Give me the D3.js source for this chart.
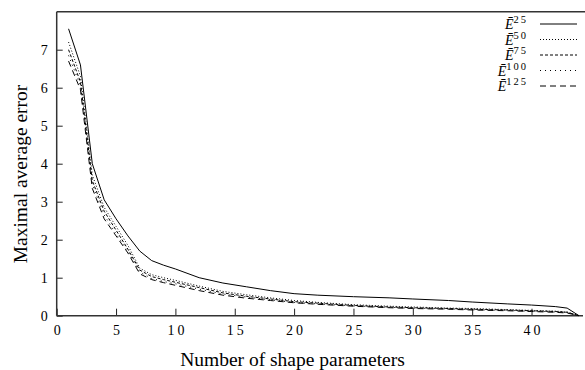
<!DOCTYPE html>
<html>
<head>
<meta charset="utf-8">
<script src="https://cdn.jsdelivr.net/npm/d3@7"></script>
<style>
  body { margin: 0; background: #fff; }
</style>
</head>
<body>
<div id="chart"></div>
<script>
// shape parameter counts (x)
const nParams = [1, 2, 3, 4, 5, 6, 7, 8, 9, 10, 12, 14, 16, 18, 20, 22, 25, 28, 30, 33, 35, 38, 40, 42, 43, 44];

// maximal average error per series
const e25  = [7.55, 6.6, 4.0, 3.05, 2.55, 2.1, 1.7, 1.45, 1.33, 1.23, 1.0, 0.86, 0.76, 0.66, 0.58, 0.54, 0.5, 0.47, 0.44, 0.4, 0.36, 0.31, 0.28, 0.24, 0.2, 0];
const e50  = [7.2, 6.3, 3.7, 2.85, 2.35, 1.85, 1.25, 1.08, 1.0, 0.93, 0.78, 0.64, 0.55, 0.47, 0.4, 0.35, 0.29, 0.25, 0.23, 0.2, 0.19, 0.16, 0.14, 0.12, 0.1, 0];
const e75  = [7.0, 6.15, 3.55, 2.75, 2.25, 1.75, 1.2, 1.03, 0.95, 0.88, 0.74, 0.6, 0.51, 0.44, 0.37, 0.33, 0.27, 0.23, 0.21, 0.19, 0.17, 0.15, 0.13, 0.11, 0.09, 0];
const e100 = [6.85, 6.05, 3.45, 2.65, 2.15, 1.7, 1.15, 0.98, 0.9, 0.84, 0.7, 0.57, 0.49, 0.42, 0.35, 0.31, 0.26, 0.22, 0.2, 0.18, 0.16, 0.14, 0.12, 0.1, 0.08, 0];
const e125 = [6.7, 5.95, 3.35, 2.55, 2.1, 1.65, 1.1, 0.95, 0.87, 0.8, 0.66, 0.54, 0.46, 0.4, 0.34, 0.3, 0.25, 0.21, 0.19, 0.17, 0.15, 0.13, 0.11, 0.09, 0.07, 0];

const seriesNames = ["25", "50", "75", "100", "125"];
const seriesValues = [e25, e50, e75, e100, e125];
const dashes = [null, "1,2", "3,2", "1,4", "6,4"];

const xTicks = [0, 5, 10, 15, 20, 25, 30, 35, 40];
const yTicks = [0, 1, 2, 3, 4, 5, 6, 7];

const width = 585, height = 370;
const serif = "'Liberation Serif', 'Times New Roman', 'DejaVu Serif', serif";

const svg = d3.select("#chart").append("svg")
  .attr("width", width)
  .attr("height", height);

const x = d3.scaleLinear().domain([0, 44]).range([56.7, 579]);
const y = d3.scaleLinear().domain([0, 8]).range([315.7, 11.7]);

// Y axis (ticks pointing inward)
const yAxis = svg.append("g")
  .attr("transform", "translate(" + x(0) + ",0)")
  .call(d3.axisLeft(y).tickValues(yTicks).tickSize(-6).tickPadding(9).tickFormat(d3.format("d")));
yAxis.select(".domain").remove();
yAxis.selectAll("text").attr("font-size", 14).attr("dy", "0.35em");

// X axis
const xAxis = svg.append("g")
  .attr("transform", "translate(0," + y(0) + ")")
  .call(d3.axisBottom(x).tickValues(xTicks).tickSize(-7).tickPadding(9).tickFormat(d3.format("d")));
xAxis.select(".domain").remove();
xAxis.selectAll("text").attr("font-size", 14).attr("letter-spacing", "3px").attr("dx", "1.5px");

svg.selectAll(".tick text").style("font-family", serif);
svg.selectAll(".tick line").attr("stroke", "#222").attr("stroke-width", 1);

// frame: left, bottom, top (no right edge)
const frame = svg.append("g").attr("stroke", "#333").attr("stroke-width", 1.5).attr("fill", "none");
frame.append("line").attr("x1", x(0)).attr("x2", x(0)).attr("y1", y(8)).attr("y2", y(0));
frame.append("line").attr("x1", x(0)).attr("x2", 583).attr("y1", y(0)).attr("y2", y(0));
frame.append("line").attr("x1", x(0)).attr("x2", width).attr("y1", y(8)).attr("y2", y(8));

// curves
const line = d3.line()
  .x((d, i) => x(nParams[i]))
  .y(d => y(d));

seriesValues.forEach((vals, k) => {
  svg.append("path")
    .datum(vals)
    .attr("fill", "none")
    .attr("stroke", "#000")
    .attr("stroke-width", 1)
    .attr("stroke-dasharray", dashes[k])
    .attr("d", line);
});

// legend
const legend = svg.append("g");
seriesNames.forEach((name, k) => {
  const ly = 24 + k * 15.5;
  const t = legend.append("text")
    .attr("x", 528)
    .attr("y", ly + 5)
    .attr("text-anchor", "end")
    .attr("font-size", 14)
    .style("font-family", serif);
  t.append("tspan").attr("font-style", "italic").text("Ē");
  t.append("tspan")
    .attr("dy", -6)
    .attr("font-size", 10.5)
    .attr("letter-spacing", "2px")
    .text(name);
  legend.append("line")
    .attr("x1", 540).attr("x2", 577)
    .attr("y1", ly).attr("y2", ly)
    .attr("stroke", "#000")
    .attr("stroke-width", 1)
    .attr("stroke-dasharray", dashes[k]);
});

// axis titles
svg.append("text")
  .attr("transform", "translate(20.5,174) rotate(-90)")
  .attr("text-anchor", "middle")
  .attr("dy", "0.35em")
  .attr("font-size", 19.5)
  .style("font-family", serif)
  .text("Maximal average error");

svg.append("text")
  .attr("x", 292.5)
  .attr("y", 366)
  .attr("text-anchor", "middle")
  .attr("font-size", 19.5)
  .style("font-family", serif)
  .text("Number of shape parameters");
</script>
</body>
</html>
